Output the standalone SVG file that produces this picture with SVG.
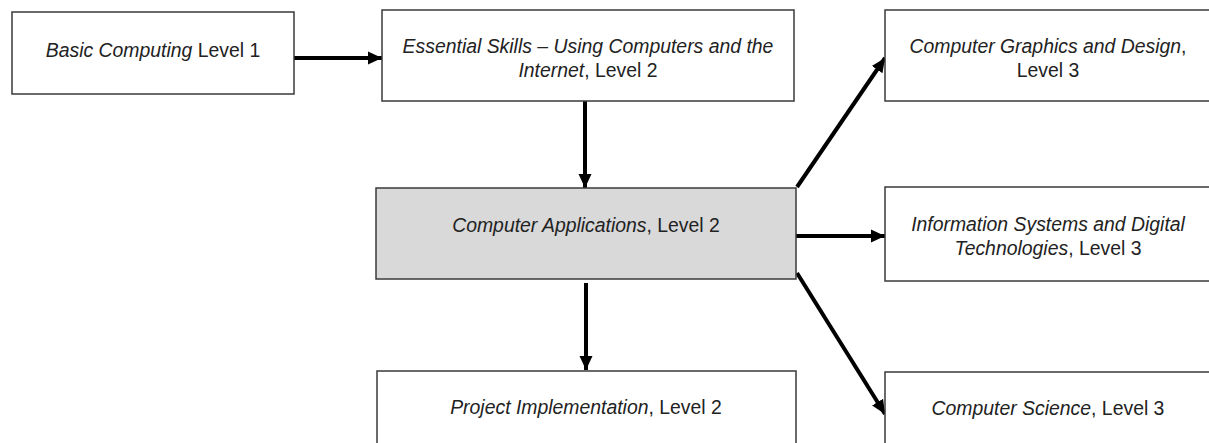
<svg xmlns="http://www.w3.org/2000/svg" width="1209" height="443" viewBox="0 0 1209 443">
<style>
.box{fill:#ffffff;stroke:#3a3a3a;stroke-width:1.5}
.hl{fill:#d9d9d9}
.t{font-family:"Liberation Sans",Arial,sans-serif;font-size:19.4px;fill:#222222;text-anchor:middle}
.i{font-style:italic}
.c{stroke:#000000;stroke-width:4;fill:none;marker-end:url(#ah)}
</style>
<defs>
<marker id="ah" markerUnits="userSpaceOnUse" markerWidth="14" markerHeight="14" refX="14" refY="7" orient="auto">
<path d="M0,0.5 L14,7 L0,13.5 z" fill="#000000"/>
</marker>
</defs>
<g id="connectors">
<line class="c" x1="294" y1="58" x2="382" y2="58"/>
<line class="c" x1="585" y1="101" x2="585" y2="188"/>
<line class="c" x1="586" y1="283" x2="586" y2="370"/>
<line class="c" x1="797" y1="187" x2="885" y2="58"/>
<line class="c" x1="796" y1="236" x2="885" y2="236"/>
<line class="c" x1="797" y1="273" x2="885" y2="414"/>
</g>
<g id="basic-computing">
<rect class="box" x="12" y="12" width="282" height="82"/>
<text class="t" x="153" y="57"><tspan class="i">Basic Computing</tspan> Level 1</text>
</g>
<g id="essential-skills">
<rect class="box" x="382" y="10" width="412" height="91"/>
<text class="t" x="588" y="53"><tspan class="i">Essential Skills – Using Computers and the</tspan></text>
<text class="t" x="588" y="77"><tspan class="i">Internet</tspan>, Level 2</text>
</g>
<g id="computer-applications">
<rect class="box hl" x="376" y="188" width="420" height="91"/>
<text class="t" x="586" y="232"><tspan class="i">Computer Applications</tspan>, Level 2</text>
</g>
<g id="project-implementation">
<rect class="box" x="377" y="371" width="419" height="90"/>
<text class="t" x="586" y="414"><tspan class="i">Project Implementation</tspan>, Level 2</text>
</g>
<g id="graphics-design">
<rect class="box" x="885" y="10" width="325" height="91"/>
<text class="t" x="1048" y="53"><tspan class="i">Computer Graphics and Design</tspan>,</text>
<text class="t" x="1048" y="77">Level 3</text>
</g>
<g id="information-systems">
<rect class="box" x="885" y="187" width="325" height="94"/>
<text class="t" x="1048" y="231"><tspan class="i">Information Systems and Digital</tspan></text>
<text class="t" x="1048" y="255"><tspan class="i">Technologies</tspan>, Level 3</text>
</g>
<g id="computer-science">
<rect class="box" x="885" y="372" width="325" height="90"/>
<text class="t" x="1048" y="415"><tspan class="i">Computer Science</tspan>, Level 3</text>
</g>
</svg>
